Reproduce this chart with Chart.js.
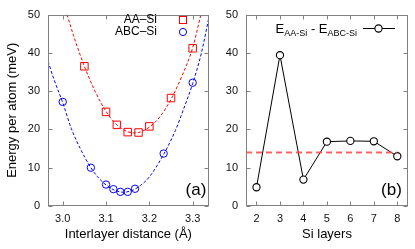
<!DOCTYPE html>
<html>
<head>
<meta charset="utf-8">
<script src="https://cdn.jsdelivr.net/npm/chart.js@4"></script>
<style>
html,body{margin:0;padding:0;background:#fff;}
#wrap{position:relative;width:415px;height:249px;overflow:hidden;}
#a{position:absolute;left:0;top:0;width:215px;height:249px;}
#b{position:absolute;left:215px;top:0;width:200px;height:249px;}
</style>
</head>
<body>
<div id="wrap">
<div id="a"><canvas id="ca"></canvas></div>
<div id="b"><canvas id="cb"></canvas></div>
</div>
<script>
// ---- Panel (a) data ----
const aaX  = [3.05, 3.1, 3.125, 3.15, 3.175, 3.2, 3.25, 3.3];
const aaY  = [36.5, 24.6, 21.2, 19.3, 19.2, 20.8, 28.2, 41.2];
const abcX = [3.0, 3.065, 3.1, 3.117, 3.133, 3.15, 3.167, 3.233, 3.3];
const abcY = [27.2, 10.0, 5.6, 4.4, 3.7, 3.7, 4.5, 13.7, 32.2];
// fitted curves
const aaFitX  = [3.010, 3.025, 3.05, 3.075, 3.1, 3.125, 3.15, 3.165, 3.175, 3.2, 3.225, 3.25, 3.275, 3.3, 3.319];
const aaFitY  = [50, 44.5, 36.5, 29.9, 24.7, 21.2, 19.4, 19.1, 19.2, 20.6, 23.4, 27.9, 33.9, 41.3, 50];
const abcFitX = [2.966, 2.98, 3.0, 3.02, 3.04, 3.065, 3.08, 3.1, 3.12, 3.14, 3.16, 3.18, 3.2, 3.233, 3.26, 3.28, 3.3, 3.32, 3.337];
const abcFitY = [37.8, 33.0, 27.0, 20.2, 15.1, 10.0, 7.7, 5.5, 4.1, 3.6, 4.05, 5.4, 7.6, 13.5, 19.7, 25.6, 32.0, 39.9, 49.0];
const xTicksA = [3.0, 3.1, 3.2, 3.3];
const yTicks  = [0, 10, 20, 30, 40, 50];

// ---- Panel (b) data ----
const layers = [2, 3, 4, 5, 6, 7, 8];
const diffE  = [4.9, 39.4, 6.9, 16.8, 17.0, 16.9, 13.0];
const refX   = [1.553, 8];
const refY   = [14, 14];
const xTicksB = [2, 3, 4, 5, 6, 7, 8];

const FONT = "'Liberation Sans', Arial, Helvetica, sans-serif";
const GRAY = '#808080';
const pts = (xs, ys) => xs.map((x, i) => ({x: x, y: ys[i]}));

function framePlugin(label, labelX, legendFn) {
  return {
    id: 'frame',
    afterDraw(chart) {
      const {ctx, chartArea: a, scales: {x, y}} = chart;
      ctx.save();
      ctx.strokeStyle = GRAY;
      ctx.lineWidth = 1;
      const L = Math.round(a.left) + 0.5, R = Math.round(a.right) - 0.5;
      const T = Math.round(a.top) + 0.5, B = Math.round(a.bottom) - 0.5;
      ctx.strokeRect(L, T, R - L, B - T);
      const tl = 4;
      ctx.beginPath();
      x.ticks.forEach(t => {
        const px = Math.round(x.getPixelForValue(t.value)) + 0.5;
        ctx.moveTo(px, B); ctx.lineTo(px, B - tl);
        ctx.moveTo(px, T); ctx.lineTo(px, T + tl);
      });
      y.ticks.forEach(t => {
        const py = Math.round(y.getPixelForValue(t.value)) + 0.5;
        ctx.moveTo(L, py); ctx.lineTo(L + tl, py);
        ctx.moveTo(R, py); ctx.lineTo(R - tl, py);
      });
      ctx.stroke();
      ctx.fillStyle = '#000';
      ctx.font = '17px ' + FONT;
      ctx.textAlign = 'center';
      ctx.textBaseline = 'middle';
      ctx.fillText(label, labelX, 190.5);
      legendFn(ctx);
      ctx.restore();
    }
  };
}

function baseScales(xmin, xmax, xt, xTitle, yTitle, yWidth) {
  return {
    x: {
      type: 'linear', min: xmin, max: xmax,
      afterBuildTicks: s => { s.ticks = xt.map(v => ({value: v})); },
      afterFit: s => { s.height = 43; },
      grid: {display: false, drawTicks: false},
      border: {display: false},
      ticks: {
        padding: 6, color: '#111', font: {family: FONT, size: 11},
        maxRotation: 0, autoSkip: false,
        callback: v => (xmax < 4 ? Number(v).toFixed(1) : String(v))
      },
      title: {display: true, text: xTitle, color: '#000',
        font: {family: FONT, size: 13}, padding: {top: 0, bottom: 7}}
    },
    y: {
      type: 'linear', min: 0, max: 50,
      afterBuildTicks: s => { s.ticks = yTicks.map(v => ({value: v})); },
      afterFit: s => { s.width = yWidth; },
      grid: {display: false, drawTicks: false},
      border: {display: false},
      ticks: {padding: 8, color: '#111', font: {family: FONT, size: 11}},
      title: {display: !!yTitle, text: yTitle, color: '#000',
        font: {family: FONT, size: 13}, padding: {top: 5, bottom: 0}}
    }
  };
}

const common = {
  responsive: true, maintainAspectRatio: false, animation: false,
  devicePixelRatio: 1,
  plugins: {legend: {display: false}, tooltip: {enabled: false}}
};

// ---- Chart (a) ----
new Chart(document.getElementById('ca'), {
  type: 'scatter',
  data: {datasets: [
    {type: 'line', data: pts(aaFitX, aaFitY), borderColor: '#ff0000', borderWidth: 1,
     borderDash: [3, 2], pointRadius: 0, cubicInterpolationMode: 'monotone', fill: false},
    {type: 'line', data: pts(abcFitX, abcFitY), borderColor: '#0000ff', borderWidth: 1,
     borderDash: [3, 2], pointRadius: 0, cubicInterpolationMode: 'monotone', fill: false},
    {data: pts(aaX, aaY), pointStyle: 'rect', pointRadius: 5.3, pointBorderColor: '#ff0000',
     pointBackgroundColor: 'rgba(0,0,0,0)', pointBorderWidth: 1},
    {data: pts(abcX, abcY), pointStyle: 'circle', pointRadius: 3.7, pointBorderColor: '#0000ff',
     pointBackgroundColor: 'rgba(0,0,0,0)', pointBorderWidth: 1}
  ]},
  options: Object.assign({}, common, {
    layout: {padding: {top: 10, right: 2, left: 0, bottom: 0}},
    scales: baseScales(2.966, 3.337, xTicksA, 'Interlayer distance (\u00C5)', 'Energy per atom (meV)', 48)
  }),
  plugins: [framePlugin('(a)', 196, ctx => {
    ctx.font = '12px ' + FONT;
    ctx.textAlign = 'right';
    ctx.textBaseline = 'middle';
    ctx.fillStyle = '#000';
    ctx.fillText('AA\u2013Si', 157, 20);
    ctx.fillText('ABC\u2013Si', 157, 32);
    ctx.lineWidth = 1;
    ctx.strokeStyle = '#ff0000';
    ctx.strokeRect(179.5, 16.5, 7, 7);
    ctx.strokeStyle = '#0000ff';
    ctx.beginPath(); ctx.arc(183, 32, 3.6, 0, Math.PI * 2); ctx.stroke();
  })]
});

// ---- Chart (b) ----
new Chart(document.getElementById('cb'), {
  type: 'scatter',
  data: {datasets: [
    {type: 'line', data: pts(refX, refY), borderColor: 'rgba(255,70,70,0.85)', borderWidth: 2,
     borderDash: [6, 4], pointRadius: 0, fill: false},
    {type: 'line', data: pts(layers, diffE), borderColor: '#000', borderWidth: 1,
     pointStyle: 'circle', pointRadius: 3.6, pointBorderColor: '#000',
     pointBackgroundColor: '#fff', pointBorderWidth: 1.1, tension: 0, fill: false}
  ]},
  options: Object.assign({}, common, {
    layout: {padding: {top: 10, right: 7, left: 0, bottom: 0}},
    scales: baseScales(1.553, 8.456, xTicksB, 'Si layers', '', 31)
  }),
  plugins: [framePlugin('(b)', 176.5, ctx => {
    ctx.fillStyle = '#000';
    ctx.textBaseline = 'alphabetic';
    ctx.textAlign = 'left';
    const big = '13px ' + FONT, small = '9px ' + FONT;
    const parts = [['E', big, 0], ['AA-Si', small, 3], [' - ', big, 0], ['E', big, 0], ['ABC-Si', small, 3]];
    let w = 0;
    parts.forEach(p => { ctx.font = p[1]; w += ctx.measureText(p[0]).width; });
    let x = 142 - w;
    parts.forEach(p => { ctx.font = p[1]; ctx.fillText(p[0], x, 32.5 + p[2]); x += ctx.measureText(p[0]).width; });
    ctx.strokeStyle = '#000';
    ctx.lineWidth = 1;
    ctx.beginPath(); ctx.moveTo(148, 28.5); ctx.lineTo(180, 28.5); ctx.stroke();
    ctx.fillStyle = '#fff';
    ctx.lineWidth = 1.1;
    ctx.beginPath(); ctx.arc(163.5, 28.5, 3.6, 0, Math.PI * 2); ctx.fill(); ctx.stroke();
  })]
});
</script>
</body>
</html>
